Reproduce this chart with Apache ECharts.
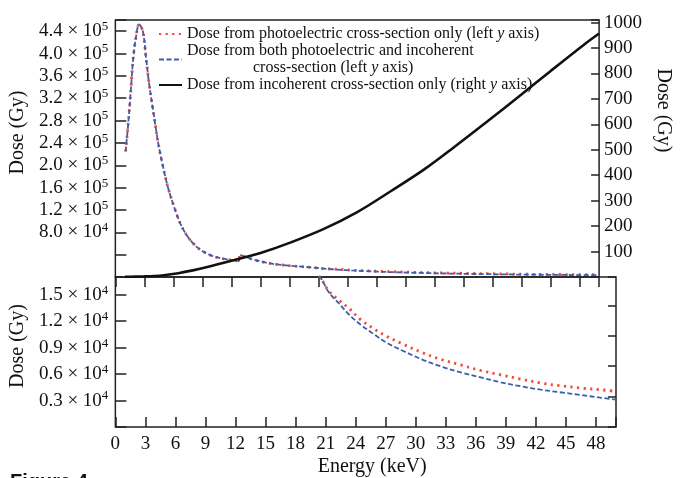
<!DOCTYPE html>
<html><head><meta charset="utf-8">
<script src="https://cdn.jsdelivr.net/npm/echarts@6/dist/echarts.min.js"></script>
<style>html,body{margin:0;padding:0;background:#fff}#c{width:681px;height:478px}</style>
</head><body><div id="c"></div>
<script>
// Energy (keV) shared by the two left-axis curves
const energy = [1.06, 1.32, 1.59, 1.85, 2.12, 2.45, 2.84, 3.17, 3.5, 3.97, 4.46, 4.96, 5.46, 6.12, 6.78, 7.6, 8.6, 9.9, 11.2, 12.2, 12.75, 12.9, 13.5, 14.4, 15.5, 16.7, 18.5, 20.5, 21.3, 22.4, 23.4, 24.4, 25.8, 27.1, 28.6, 30.6, 32.5, 34.5, 36.5, 38.5, 40.5, 42.5, 44.4, 46.4, 48.4, 50];
// Dose from photoelectric cross-section only (Gy)
const dosePhotoelectric = [224700, 272600, 332400, 392300, 428200, 452000, 440000, 392300, 344400, 290500, 236700, 194900, 159000, 123100, 93100, 69300, 51300, 38500, 32500, 30000, 28500, 39000, 35500, 30500, 26000, 22500, 19500, 16900, 15425, 14306, 13377, 12257, 11138, 10276, 9459, 8451, 7668, 7030, 6403, 5910, 5429, 4981, 4679, 4422, 4231, 4030];
// Dose from both photoelectric and incoherent cross-section (Gy)
const doseBoth = [224700, 272600, 332400, 392300, 428200, 452000, 440000, 392300, 344400, 290500, 236700, 194900, 159000, 123100, 93100, 69300, 51300, 38500, 32500, 30000, 28500, 39000, 35500, 30500, 26000, 22500, 19500, 16900, 15300, 13907, 12678, 11680, 10530, 9546, 8700, 7668, 6870, 6185, 5619, 5060, 4612, 4225, 3940, 3638, 3336, 3100];
// Dose from incoherent cross-section only (right axis)
const energyIncoherent = [1, 2, 3, 4, 5, 6.5, 8, 9.5, 11, 13, 15, 18, 21.5, 25, 28.5, 32, 35, 38.5, 42, 45, 48.5, 50];
const doseIncoherent = [0.5, 1.5, 2.5, 4, 7, 15, 26, 39, 54, 74, 94, 134, 188, 255, 338, 425, 510, 613, 718, 810, 915, 957];

const xTickValues = [0, 3, 6, 9, 12, 15, 18, 21, 24, 27, 30, 33, 36, 39, 42, 45, 48];
const leftTopTickValues = [80000, 120000, 160000, 200000, 240000, 280000, 320000, 360000, 400000, 440000];
const leftBottomTickValues = [3000, 6000, 9000, 12000, 15000];
const rightTopTickValues = [100, 200, 300, 400, 500, 600, 700, 800, 900, 1000];

const legendNames = [
  'Dose from photoelectric cross-section only (left y axis)',
  'Dose from both photoelectric and incoherent cross-section (left y axis)',
  'Dose from incoherent cross-section only (right y axis)'
];
const legendRich = {};
legendRich[legendNames[0]] = '{a|Dose from photoelectric cross-section only (left }{i|y}{a| axis)}';
legendRich[legendNames[1]] = '{a|Dose from both photoelectric and incoherent}\n{b|cross-section (left }{i|y}{a| axis)}';
legendRich[legendNames[2]] = '{a|Dose from incoherent cross-section only (right }{i|y}{a| axis)}';

const SERIF = '"Liberation Serif", "Times New Roman", serif';
const RED = '#ef4a3c', BLUE = '#3b5fae', BLACK = '#111';
const RED_DOTS = { color: RED, width: 2.8, type: [2.2, 4.4], cap: 'butt' };
const BLUE_DASH = { color: BLUE, width: 1.8, type: [5, 2.5] };

function zip(xs, ys) { return xs.map((x, i) => [x, ys[i]]); }
function sciLabel(v, exp) {
  return '{m|' + (v / Math.pow(10, exp)).toFixed(1) + ' × 10}{s|' + exp + '}';
}
const labelRich = {
  m: { fontFamily: SERIF, fontSize: 19, color: '#111', lineHeight: 22 },
  s: { fontFamily: SERIF, fontSize: 13, color: '#111', lineHeight: 13, verticalAlign: 'top' }
};

const chart = echarts.init(document.getElementById('c'), null, { renderer: 'canvas' });
const option = {
  animation: false,
  backgroundColor: '#fff',
  grid: [
    { left: 112, top: 20, width: 504, height: 257, show: true, borderColor: '#222', borderWidth: 1.5, backgroundColor: 'transparent' },
    { left: 112, top: 277, width: 504, height: 151.5, show: true, borderColor: '#222', borderWidth: 1.5, backgroundColor: 'transparent' }
  ],
  legend: {
    data: legendNames,
    orient: 'vertical',
    left: 158, top: 26, padding: 0,
    itemGap: 1, itemWidth: 23, itemHeight: 6,
    itemStyle: { opacity: 0 },
    formatter: name => legendRich[name],
    textStyle: {
      rich: {
        a: { fontFamily: SERIF, fontSize: 16, lineHeight: 17, color: '#111' },
        i: { fontFamily: SERIF, fontSize: 16, lineHeight: 17, color: '#111', fontStyle: 'italic' },
        b: { fontFamily: SERIF, fontSize: 16, lineHeight: 17, color: '#111', padding: [0, 0, 0, 66] }
      }
    }
  },
  xAxis: [
    { gridIndex: 0, type: 'value', min: 0, max: 50, interval: 3,
      axisLine: { show: false }, splitLine: { show: false },
      axisTick: { show: true, inside: false, length: 10, lineStyle: { color: '#222', width: 1.5 } },
      axisLabel: { show: false } },
    { gridIndex: 1, type: 'value', min: 0, max: 50, interval: 3,
      axisLine: { show: false }, splitLine: { show: false },
      axisTick: { show: true, inside: true, length: 10, lineStyle: { color: '#222', width: 1.5 } },
      axisLabel: { show: true, margin: 8, fontFamily: SERIF, fontSize: 19, color: '#111',
        formatter: v => xTickValues.indexOf(v) >= 0 ? String(v) : '' },
      name: 'Energy (keV)', nameLocation: 'middle', nameGap: 30,
      nameTextStyle: { fontFamily: SERIF, fontSize: 20, color: '#111', padding: [0, 0, 0, 13] } }
  ],
  yAxis: [
    { gridIndex: 0, type: 'value', position: 'left', min: 0, max: 460000, interval: 40000,
      axisLine: { show: false }, splitLine: { show: false },
      axisTick: { show: true, inside: true, length: 11, lineStyle: { color: '#222', width: 1.5 } },
      axisLabel: { margin: 7, rich: labelRich,
        formatter: v => leftTopTickValues.indexOf(v) < 0 ? '' : (v >= 100000 ? sciLabel(v, 5) : sciLabel(v, 4)) },
      name: 'Dose (Gy)', nameLocation: 'middle', nameGap: 77, nameRotate: 90,
      nameTextStyle: { fontFamily: SERIF, fontSize: 20, color: '#111', padding: [0, 0, 0, 32] } },
    { gridIndex: 0, type: 'value', position: 'right', min: 0, max: 1010, interval: 100,
      axisLine: { show: false }, splitLine: { show: false },
      axisTick: { show: true, inside: true, length: 8, lineStyle: { color: '#222', width: 1.5 } },
      axisLabel: { margin: 5, fontFamily: SERIF, fontSize: 19, color: '#111',
        formatter: v => rightTopTickValues.indexOf(v) >= 0 ? String(v) : '' },
      name: 'Dose (Gy)', nameLocation: 'middle', nameGap: 45, nameRotate: -90,
      nameTextStyle: { fontFamily: SERIF, fontSize: 20, color: '#111', padding: [0, 76, 0, 0] } },
    { gridIndex: 1, type: 'value', position: 'left', min: 0, max: 17000, interval: 3000,
      axisLine: { show: false }, splitLine: { show: false },
      axisTick: { show: true, inside: true, length: 11, lineStyle: { color: '#222', width: 1.5 } },
      axisLabel: { margin: 7, rich: labelRich,
        formatter: v => leftBottomTickValues.indexOf(v) < 0 ? '' : sciLabel(v, 4) },
      name: 'Dose (Gy)', nameLocation: 'middle', nameGap: 77, nameRotate: 90,
      nameTextStyle: { fontFamily: SERIF, fontSize: 20, color: '#111', padding: [0, 0, 0, 12] } },
    { gridIndex: 1, type: 'value', position: 'right', min: 0, max: 4.93, interval: 1,
      axisLine: { show: false }, splitLine: { show: false },
      axisTick: { show: true, inside: true, length: 8, lineStyle: { color: '#222', width: 1.5 } },
      axisLabel: { show: false } }
  ],
  series: [
    { name: legendNames[0], type: 'line', xAxisIndex: 0, yAxisIndex: 0, symbol: 'none',
      smooth: 0.35, data: zip(energy, dosePhotoelectric), color: RED, lineStyle: RED_DOTS },
    { name: legendNames[1], type: 'line', xAxisIndex: 0, yAxisIndex: 0, symbol: 'none',
      smooth: 0.35, data: zip(energy, doseBoth), color: BLUE, lineStyle: BLUE_DASH },
    { name: legendNames[2], type: 'line', xAxisIndex: 0, yAxisIndex: 1, symbol: 'none',
      smooth: 0.35, data: zip(energyIncoherent, doseIncoherent), color: BLACK,
      lineStyle: { color: BLACK, width: 2.6 } },
    { name: 'photo-zoom', type: 'line', xAxisIndex: 1, yAxisIndex: 2, symbol: 'none',
      smooth: 0.35, data: zip(energy, dosePhotoelectric), color: RED, lineStyle: RED_DOTS },
    { name: 'both-zoom', type: 'line', xAxisIndex: 1, yAxisIndex: 2, symbol: 'none',
      smooth: 0.35, data: zip(energy, doseBoth), color: BLUE, lineStyle: BLUE_DASH }
  ],
  graphic: [
    { type: 'text', left: 10, top: 472, style: { text: 'Figure 4', font: 'bold 20px "Liberation Sans", Arial, sans-serif', fill: '#111' } }
  ]
};
chart.setOption(option);
</script>
</body></html>
